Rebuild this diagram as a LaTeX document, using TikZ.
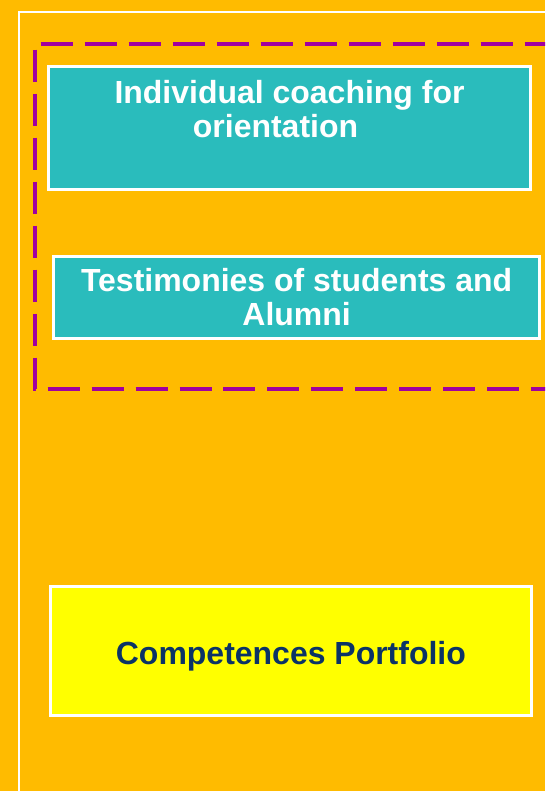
\documentclass[tikz,border=0pt]{standalone}
\usepackage{fontspec}
\setmainfont{Liberation Sans}
\usetikzlibrary{positioning}
\definecolor{backorange}{RGB}{255,187,0}
\definecolor{boxteal}{RGB}{42,188,188}
\definecolor{frameviolet}{RGB}{160,0,160}
\definecolor{navytext}{RGB}{11,51,102}
\definecolor{boxyellow}{RGB}{255,255,0}

\tikzset{
  tealbox/.style={draw=white,fill=boxteal,line width=1.7pt,inner sep=0pt},
  yellowbox/.style={draw=white,fill=boxyellow,line width=1.7pt,inner sep=0pt},
  boxtext/.style={text=white,font=\fontsize{18.2}{19.35}\selectfont\bfseries,align=center,inner sep=0pt},
  groupline/.style={frameviolet,line width=2.3pt,dash pattern=on 0.64cm off 0.24cm,dash phase=0.76cm}
}

\begin{document}
\begin{tikzpicture}[x=0.02cm,y=-0.02cm]
% page and background
\useasboundingbox (0,0) rectangle (545,791);
\clip (0,0) rectangle (545,791);
\fill[backorange] (0,0) rectangle (545,791);
\draw[white,line width=1.7pt] (19,820) -- (19,12) -- (580,12);

% dashed group round the two teal boxes
\coordinate (grouptl) at (34.7,43.7);
\coordinate (grouptr) at (600,43.7);
\coordinate (groupbl) at (34.7,388.8);
\coordinate (groupbr) at (600,388.8);
\draw[groupline] (grouptl) -- (grouptr);
\draw[groupline] (grouptl) -- (groupbl) -- (groupbr);

% boxes
\node[tealbox,minimum width=9.64cm,minimum height=2.46cm] (coach) at (289.5,127.6) {};
\node[boxtext,below=0.3cm of coach.north] (coachtxt)
  {Individual coaching for\\\mbox{orientation\hspace{0.56cm}}};

\node[tealbox,minimum width=9.72cm,minimum height=1.65cm] (testimony) at (296.6,297.6) {};
\node[boxtext,below=0.26cm of testimony.north] (testimonytxt)
  {Testimonies of students and\\Alumni};

\node[yellowbox,minimum width=9.62cm,minimum height=2.59cm] (portfolio) at (290.9,650.8) {};
\node[boxtext,text=navytext,below=1.12cm of portfolio.north] (portfoliotxt)
  {Competences Portfolio};
\end{tikzpicture}
\end{document}
